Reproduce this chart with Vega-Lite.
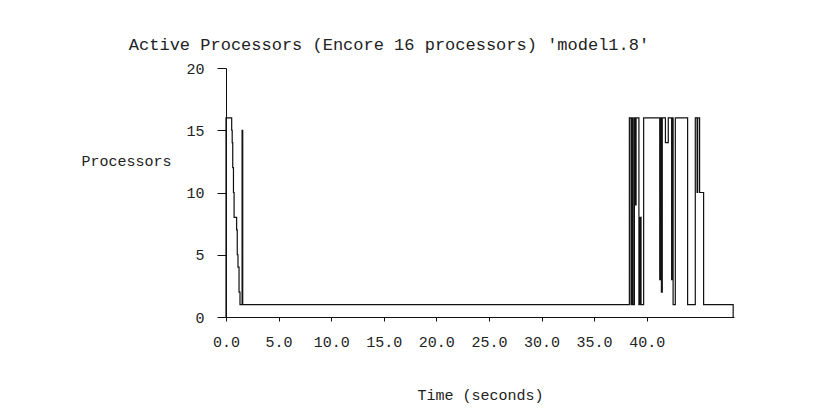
{
  "$schema": "https://vega.github.io/schema/vega-lite/v6.json",
  "autosize": "none",
  "width": 508,
  "height": 249,
  "padding": {"left": 226, "top": 68, "right": 91, "bottom": 97},
  "background": "white",
  "title": {
    "text": "Active Processors (Encore 16 processors) 'model1.8'",
    "font": "Liberation Mono",
    "fontSize": 17,
    "fontWeight": "normal",
    "color": "#222",
    "anchor": "middle",
    "dx": -91,
    "offset": 7
  },
  "data": {
    "values": [
      {"t": 0, "p": 0},
      {"t": 0, "p": 16},
      {"t": 0.54, "p": 15},
      {"t": 0.59, "p": 14},
      {"t": 0.64, "p": 12},
      {"t": 0.71, "p": 10},
      {"t": 0.77, "p": 8},
      {"t": 1.01, "p": 7},
      {"t": 1.07, "p": 5},
      {"t": 1.14, "p": 4},
      {"t": 1.24, "p": 2},
      {"t": 1.33, "p": 1},
      {"t": 1.53, "p": 15},
      {"t": 1.59, "p": 1},
      {"t": 38.35, "p": 16},
      {"t": 38.51, "p": 1},
      {"t": 38.59, "p": 16},
      {"t": 38.7, "p": 1},
      {"t": 38.83, "p": 16},
      {"t": 38.9, "p": 9},
      {"t": 38.99, "p": 16},
      {"t": 39.26, "p": 1},
      {"t": 39.36, "p": 8},
      {"t": 39.46, "p": 1},
      {"t": 39.71, "p": 16},
      {"t": 41.24, "p": 3},
      {"t": 41.33, "p": 16},
      {"t": 41.4, "p": 2},
      {"t": 41.48, "p": 16},
      {"t": 41.78, "p": 14},
      {"t": 42.05, "p": 16},
      {"t": 42.37, "p": 3},
      {"t": 42.44, "p": 16},
      {"t": 42.51, "p": 1},
      {"t": 42.72, "p": 16},
      {"t": 43.89, "p": 1},
      {"t": 44.62, "p": 16},
      {"t": 44.79, "p": 10},
      {"t": 44.85, "p": 16},
      {"t": 45.03, "p": 10},
      {"t": 45.41, "p": 1},
      {"t": 48.22, "p": 0}
    ]
  },
  "mark": {"type": "line", "interpolate": "step-after", "color": "#111", "strokeWidth": 1.2},
  "encoding": {
    "x": {
      "field": "t",
      "type": "quantitative",
      "scale": {"domain": [0, 48.3], "nice": false, "zero": false},
      "axis": {
        "title": "Time (seconds)",
        "values": [0, 5, 10, 15, 20, 25, 30, 35, 40],
        "format": ".1f",
        "grid": false,
        "tickSize": 4,
        "labelPadding": 13,
        "titlePadding": 38,
        "labelFlush": false
      }
    },
    "y": {
      "field": "p",
      "type": "quantitative",
      "scale": {"domain": [0, 20], "nice": false},
      "axis": {
        "title": "Processors",
        "values": [0, 5, 10, 15, 20],
        "grid": false,
        "tickSize": 9,
        "labelPadding": 13,
        "titleAngle": 0,
        "titleAlign": "right",
        "titleBaseline": "middle",
        "titleX": -55,
        "titleY": 92
      }
    }
  },
  "config": {
    "view": {"stroke": null},
    "axis": {
      "domainColor": "#111",
      "tickColor": "#111",
      "labelColor": "#222",
      "titleColor": "#222",
      "labelFont": "Liberation Mono",
      "titleFont": "Liberation Mono",
      "labelFontSize": 15,
      "titleFontSize": 15,
      "titleFontWeight": "normal",
      "domainWidth": 1,
      "tickWidth": 1
    }
  }
}
